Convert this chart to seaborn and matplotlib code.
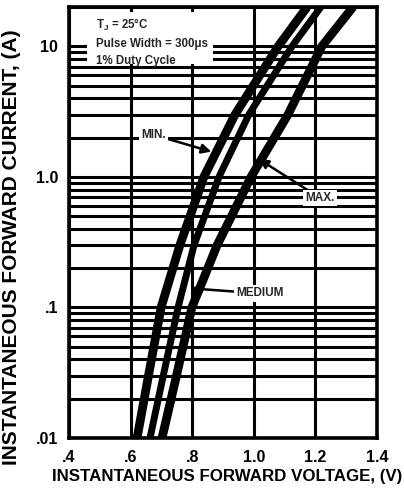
import matplotlib
matplotlib.use("Agg")
import matplotlib.pyplot as plt
import matplotlib.ticker as mticker
from matplotlib.patches import Rectangle
import seaborn as sns
import pandas as pd

# ---- data ----
current = [0.01, 0.03, 0.1, 0.3, 1.0, 3.0, 10.0, 20.0]
v_min = [0.621, 0.658, 0.699, 0.760, 0.838, 0.939, 1.079, 1.173]
v_medium = [0.663, 0.706, 0.754, 0.806, 0.887, 0.984, 1.124, 1.218]
v_max = [0.702, 0.749, 0.799, 0.881, 0.991, 1.111, 1.221, 1.322]

x_ticks = [0.4, 0.6, 0.8, 1.0, 1.2, 1.4]
x_tick_labels = [".4", ".6", ".8", "1.0", "1.2", "1.4"]
y_ticks = [0.01, 0.1, 1.0, 10.0]
y_tick_labels = [".01", ".1", "1.0", "10"]

sns.set_theme(style="white")
plt.rcParams["font.family"] = ["Liberation Sans", "DejaVu Sans"]
plt.rcParams["font.weight"] = "bold"
plt.rcParams["mathtext.fontset"] = "custom"
plt.rcParams["mathtext.rm"] = "Liberation Sans:bold"
plt.rcParams["mathtext.bf"] = "Liberation Sans:bold"

fig = plt.figure(figsize=(4.04, 4.88), dpi=100)
ax = fig.add_axes([69 / 404, 1 - 438 / 488, (377 - 69) / 404, (438 - 7) / 488])

df = pd.concat([
    pd.DataFrame({"V": v_min, "I": current, "grade": "MIN"}),
    pd.DataFrame({"V": v_medium, "I": current, "grade": "MEDIUM"}),
    pd.DataFrame({"V": v_max, "I": current, "grade": "MAX"}),
])
widths = {"MIN": 6.3, "MEDIUM": 5.0, "MAX": 6.3}
for g, sub in df.groupby("grade", sort=False):
    sns.lineplot(data=sub, x="V", y="I", ax=ax, color="black",
                 lw=widths[g], sort=False, legend=False, zorder=5,
                 solid_capstyle="butt", solid_joinstyle="round")

ax.set_yscale("log")
ax.set_xlim(0.4, 1.4)
ax.set_ylim(0.01, 20)

ax.set_xticks(x_ticks)
ax.set_xticklabels(x_tick_labels)
ax.set_yticks(y_ticks)
ax.set_yticklabels(y_tick_labels)
ax.yaxis.set_minor_locator(mticker.LogLocator(base=10, subs=range(1, 10)))
ax.yaxis.set_minor_formatter(mticker.NullFormatter())
ax.tick_params(axis="both", which="both", length=0, labelsize=11.5,
               colors="black")
ax.tick_params(axis="x", pad=9)
ax.tick_params(axis="y", pad=8)
for lab in ax.get_xticklabels() + ax.get_yticklabels():
    lab.set_fontweight("bold")

ax.xaxis.grid(True, which="major", color="black", lw=2.2)
ax.yaxis.grid(True, which="both", color="black", lw=2.2)
ax.set_axisbelow(True)
for s in ax.spines.values():
    s.set_color("black")
    s.set_linewidth(2.6)

ax.set_xlabel("INSTANTANEOUS FORWARD VOLTAGE, (V)", fontsize=12.2,
              fontweight="bold", color="black")
ax.set_ylabel("INSTANTANEOUS FORWARD CURRENT, (A)", fontsize=15,
              fontweight="bold", color="black")
ax.xaxis.label.set_va("center")
ax.yaxis.label.set_va("center")
ax.xaxis.set_label_coords((227 - 69) / 308, (438 - 476) / 431)
ax.yaxis.set_label_coords((12 - 69) / 308, (438 - 247) / 431)

# condition box
ax.add_patch(Rectangle((0.058, 0.868), 0.41, 0.12, transform=ax.transAxes,
                       facecolor="white", edgecolor="none", zorder=3))
tx = (96 - 69) / 308
ax.text(tx, (438 - 25) / 431, "T$_{\\mathbf{J}}$ = 25°C", transform=ax.transAxes,
        fontsize=8.3, fontweight="bold", va="center", ha="left", zorder=6)
ax.text(tx, (438 - 44) / 431, "Pulse Width = 300μs", transform=ax.transAxes,
        fontsize=8.3, fontweight="bold", va="center", ha="left", zorder=6)
ax.text(tx, (438 - 61) / 431, "1% Duty Cycle", transform=ax.transAxes,
        fontsize=8.3, fontweight="bold", va="center", ha="left", zorder=6)

arrow = dict(arrowstyle="-|>", color="black", lw=1.8, mutation_scale=14,
             shrinkA=0, shrinkB=0)
bbox = dict(facecolor="white", edgecolor="none", pad=1.5)
ax.annotate("MIN.", xy=(0.862, 1.56), xytext=(0.675, 2.1),
            fontsize=8.5, fontweight="bold", ha="center", va="center",
            bbox=bbox, arrowprops=arrow, zorder=7)
ax.annotate("MAX.", xy=(1.016, 1.37), xytext=(1.215, 0.69),
            fontsize=8.5, fontweight="bold", ha="center", va="center",
            bbox=bbox, arrowprops=arrow, zorder=7)
ax.annotate("MEDIUM", xy=(0.795, 0.14), xytext=(1.02, 0.128),
            fontsize=8.5, fontweight="bold", ha="center", va="center",
            bbox=bbox, arrowprops=arrow, zorder=7)

fig.savefig("out.png", dpi=100, facecolor="white")
